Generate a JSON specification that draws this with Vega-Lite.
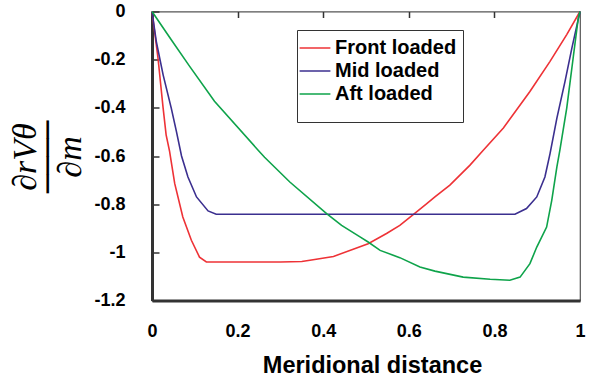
{
  "$schema": "https://vega.github.io/schema/vega-lite/v6.json",
  "width": 428,
  "height": 289,
  "autosize": {"type": "none"},
  "padding": {"left": 152, "top": 11.5, "right": 9, "bottom": 78.5},
  "background": "white",
  "config": {
    "view": {"stroke": "#555", "strokeWidth": 1.2},
    "font": "Liberation Sans"
  },
  "data": {
    "values": [
      {"series": "Front loaded", "x": 0, "y": 0},
      {"series": "Front loaded", "x": 0.014, "y": -0.193},
      {"series": "Front loaded", "x": 0.026, "y": -0.401},
      {"series": "Front loaded", "x": 0.033, "y": -0.512},
      {"series": "Front loaded", "x": 0.041, "y": -0.58},
      {"series": "Front loaded", "x": 0.053, "y": -0.714},
      {"series": "Front loaded", "x": 0.072, "y": -0.853},
      {"series": "Front loaded", "x": 0.092, "y": -0.95},
      {"series": "Front loaded", "x": 0.111, "y": -1.02},
      {"series": "Front loaded", "x": 0.127, "y": -1.04},
      {"series": "Front loaded", "x": 0.2, "y": -1.04},
      {"series": "Front loaded", "x": 0.3, "y": -1.04},
      {"series": "Front loaded", "x": 0.35, "y": -1.038},
      {"series": "Front loaded", "x": 0.369, "y": -1.033},
      {"series": "Front loaded", "x": 0.424, "y": -1.017},
      {"series": "Front loaded", "x": 0.478, "y": -0.982},
      {"series": "Front loaded", "x": 0.505, "y": -0.964},
      {"series": "Front loaded", "x": 0.548, "y": -0.922},
      {"series": "Front loaded", "x": 0.579, "y": -0.888},
      {"series": "Front loaded", "x": 0.611, "y": -0.842},
      {"series": "Front loaded", "x": 0.642, "y": -0.798},
      {"series": "Front loaded", "x": 0.661, "y": -0.77},
      {"series": "Front loaded", "x": 0.696, "y": -0.721},
      {"series": "Front loaded", "x": 0.743, "y": -0.638},
      {"series": "Front loaded", "x": 0.774, "y": -0.576},
      {"series": "Front loaded", "x": 0.821, "y": -0.484},
      {"series": "Front loaded", "x": 0.883, "y": -0.332},
      {"series": "Front loaded", "x": 0.93, "y": -0.207},
      {"series": "Front loaded", "x": 0.969, "y": -0.096},
      {"series": "Front loaded", "x": 1, "y": 0},
      {"series": "Mid loaded", "x": 0, "y": 0},
      {"series": "Mid loaded", "x": 0.01, "y": -0.124},
      {"series": "Mid loaded", "x": 0.026, "y": -0.263},
      {"series": "Mid loaded", "x": 0.045, "y": -0.401},
      {"series": "Mid loaded", "x": 0.057, "y": -0.498},
      {"series": "Mid loaded", "x": 0.069, "y": -0.6},
      {"series": "Mid loaded", "x": 0.084, "y": -0.687},
      {"series": "Mid loaded", "x": 0.104, "y": -0.77},
      {"series": "Mid loaded", "x": 0.131, "y": -0.828},
      {"series": "Mid loaded", "x": 0.15, "y": -0.842},
      {"series": "Mid loaded", "x": 0.5, "y": -0.842},
      {"series": "Mid loaded", "x": 0.848, "y": -0.842},
      {"series": "Mid loaded", "x": 0.875, "y": -0.818},
      {"series": "Mid loaded", "x": 0.899, "y": -0.77},
      {"series": "Mid loaded", "x": 0.918, "y": -0.687},
      {"series": "Mid loaded", "x": 0.93, "y": -0.59},
      {"series": "Mid loaded", "x": 0.946, "y": -0.443},
      {"series": "Mid loaded", "x": 0.965, "y": -0.29},
      {"series": "Mid loaded", "x": 0.981, "y": -0.152},
      {"series": "Mid loaded", "x": 1, "y": 0},
      {"series": "Aft loaded", "x": 0, "y": 0},
      {"series": "Aft loaded", "x": 0.045, "y": -0.117},
      {"series": "Aft loaded", "x": 0.088, "y": -0.228},
      {"series": "Aft loaded", "x": 0.146, "y": -0.373},
      {"series": "Aft loaded", "x": 0.248, "y": -0.576},
      {"series": "Aft loaded", "x": 0.263, "y": -0.605},
      {"series": "Aft loaded", "x": 0.322, "y": -0.708},
      {"series": "Aft loaded", "x": 0.408, "y": -0.839},
      {"series": "Aft loaded", "x": 0.443, "y": -0.888},
      {"series": "Aft loaded", "x": 0.486, "y": -0.936},
      {"series": "Aft loaded", "x": 0.505, "y": -0.957},
      {"series": "Aft loaded", "x": 0.533, "y": -0.992},
      {"series": "Aft loaded", "x": 0.579, "y": -1.022},
      {"series": "Aft loaded", "x": 0.626, "y": -1.061},
      {"series": "Aft loaded", "x": 0.661, "y": -1.078},
      {"series": "Aft loaded", "x": 0.727, "y": -1.103},
      {"series": "Aft loaded", "x": 0.79, "y": -1.112},
      {"series": "Aft loaded", "x": 0.836, "y": -1.116},
      {"series": "Aft loaded", "x": 0.86, "y": -1.103},
      {"series": "Aft loaded", "x": 0.883, "y": -1.047},
      {"series": "Aft loaded", "x": 0.899, "y": -0.978},
      {"series": "Aft loaded", "x": 0.922, "y": -0.895},
      {"series": "Aft loaded", "x": 0.934, "y": -0.784},
      {"series": "Aft loaded", "x": 0.946, "y": -0.645},
      {"series": "Aft loaded", "x": 0.953, "y": -0.576},
      {"series": "Aft loaded", "x": 0.969, "y": -0.401},
      {"series": "Aft loaded", "x": 0.984, "y": -0.193},
      {"series": "Aft loaded", "x": 0.996, "y": -0.027},
      {"series": "Aft loaded", "x": 1, "y": 0}
    ]
  },
  "layer": [
    {
      "mark": {"type": "line", "strokeWidth": 1.6},
      "encoding": {
        "x": {
          "field": "x", "type": "quantitative",
          "scale": {"domain": [0, 1], "nice": false},
          "axis": {
            "orient": "bottom",
            "values": [0, 0.2, 0.4, 0.6, 0.8, 1],
            "labelExpr": "toString(datum.value)",
            "grid": false, "ticks": false,
            "domainColor": "#333", "domainWidth": 3,
            "labelFont": "Liberation Sans", "labelFontWeight": "bold", "labelFontSize": 18,
            "labelColor": "black", "labelPadding": 22, "labelFlush": false,
            "title": "Meridional distance",
            "titleFont": "Liberation Sans", "titleFontWeight": "bold", "titleFontSize": 23.5,
            "titleColor": "black", "titlePadding": 13, "titleX": 220
          }
        },
        "y": {
          "field": "y", "type": "quantitative",
          "scale": {"domain": [-1.2, 0], "nice": false},
          "axis": {
            "values": [0, -0.2, -0.4, -0.6, -0.8, -1, -1.2],
            "labelExpr": "toString(datum.value)",
            "grid": false,
            "ticks": true, "tickSize": -7, "tickColor": "#333", "tickWidth": 1.5,
            "domainColor": "#333", "domainWidth": 3,
            "labelFont": "Liberation Sans", "labelFontWeight": "bold", "labelFontSize": 18,
            "labelColor": "black", "labelPadding": 34, "labelFlush": false,
            "title": "∂rVθ",
            "titleFont": "Liberation Serif", "titleFontStyle": "italic", "titleFontWeight": "normal",
            "titleFontSize": 34, "titleColor": "black",
            "titleAngle": 270, "titleAlign": "center", "titleBaseline": "middle",
            "titleX": -127, "titleY": 145
          }
        },
        "color": {
          "field": "series", "type": "nominal",
          "scale": {
            "domain": ["Front loaded", "Mid loaded", "Aft loaded"],
            "range": ["#ee3236", "#3b2f8f", "#0ea34a"]
          },
          "legend": {
            "orient": "none", "legendX": 145, "legendY": 18.5,
            "title": " ", "titleOrient": "bottom", "titleFontSize": 10, "titlePadding": 2,
            "padding": 6, "strokeColor": "#333", "fillColor": "white",
            "symbolType": "M-1.4,0H1.4", "symbolSize": 484, "symbolStrokeWidth": 1.5,
            "labelFont": "Liberation Sans", "labelFontWeight": "bold", "labelFontSize": 20,
            "labelColor": "black", "labelOffset": 8, "rowPadding": 1
          }
        }
      }
    },
    {
      "mark": {"type": "line", "strokeOpacity": 0},
      "encoding": {
        "x": {
          "field": "x", "type": "quantitative",
          "scale": {"domain": [0, 1], "nice": false},
          "axis": {
            "orient": "top",
            "values": [0.2, 0.4, 0.6, 0.8],
            "labels": false, "domain": false, "grid": false,
            "ticks": true, "tickSize": -6, "tickColor": "#333", "tickWidth": 1.5,
            "title": "∂m",
            "titleFont": "Liberation Serif", "titleFontStyle": "italic", "titleFontWeight": "normal",
            "titleFontSize": 34, "titleColor": "black",
            "titleAngle": 270, "titleAlign": "center", "titleBaseline": "middle",
            "titleX": -82, "titleY": 145
          }
        },
        "y": {"field": "y", "type": "quantitative", "axis": null},
        "detail": {"field": "series", "type": "nominal"}
      }
    },
    {
      "mark": {"type": "line", "strokeOpacity": 0},
      "encoding": {
        "x": {"field": "x", "type": "quantitative", "axis": null},
        "y": {
          "field": "y", "type": "quantitative",
          "axis": {
            "orient": "right",
            "labels": false, "domain": false, "grid": false, "ticks": false,
            "title": "────",
            "titleFont": "DejaVu Sans", "titleFontWeight": "normal",
            "titleFontSize": 30, "titleColor": "black",
            "titleAngle": 270, "titleAlign": "center", "titleBaseline": "middle",
            "titleX": -532, "titleY": 145
          }
        },
        "detail": {"field": "series", "type": "nominal"}
      }
    }
  ],
  "resolve": {"axis": {"x": "independent", "y": "independent"}}
}
